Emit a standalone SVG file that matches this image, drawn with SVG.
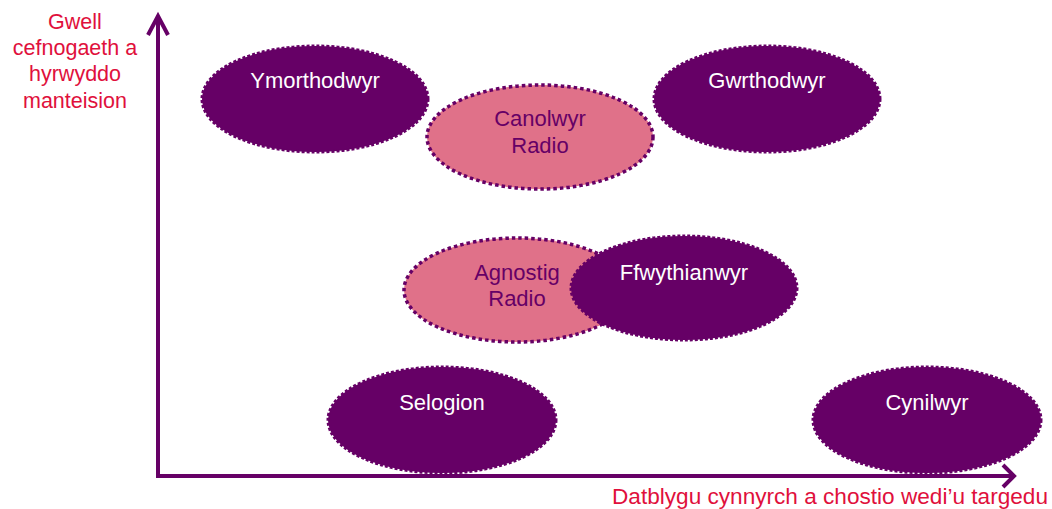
<svg xmlns="http://www.w3.org/2000/svg" width="1052" height="509" viewBox="0 0 1052 509">
<style>
.dark{fill:#660066;stroke:#660066;stroke-width:3;stroke-dasharray:3 2}
.pink{fill:#E07189;stroke:#660066;stroke-width:3.5;stroke-dasharray:3.5 3}
.wt{font-family:"Liberation Sans",Arial,sans-serif;font-size:22px;fill:#ffffff;text-anchor:middle}
.pt{font-family:"Liberation Sans",Arial,sans-serif;font-size:22px;fill:#660066;text-anchor:middle}
.rt{font-family:"Liberation Sans",Arial,sans-serif;font-size:21.5px;fill:#E0103C;text-anchor:middle}
.axis{fill:none;stroke:#660066;stroke-width:4}
</style>
<rect width="1052" height="509" fill="#ffffff"/>
<g id="axes">
<path class="axis" d="M158,477 V17"/>
<path class="axis" d="M148,35 L158,16 L168,35"/>
<path class="axis" d="M156,476 H1013"/>
<path class="axis" d="M1003,465 L1014,476 L1003,487"/>
</g>
<g id="ymorthodwyr"><ellipse class="dark" cx="315" cy="99" rx="113" ry="53"/><text class="wt" x="315" y="88">Ymorthodwyr</text></g>
<g id="gwrthodwyr"><ellipse class="dark" cx="767" cy="99" rx="113" ry="53"/><text class="wt" x="767" y="88">Gwrthodwyr</text></g>
<g id="canolwyr"><ellipse class="pink" cx="540" cy="137" rx="113" ry="52"/><text class="pt" x="540" y="126">Canolwyr</text><text class="pt" x="540" y="153">Radio</text></g>
<g id="agnostig"><ellipse class="pink" cx="517" cy="290" rx="113" ry="52"/><text class="pt" x="517" y="280">Agnostig</text><text class="pt" x="517" y="306">Radio</text></g>
<g id="ffwythianwyr"><ellipse class="dark" cx="684" cy="288" rx="113" ry="52"/><text class="wt" x="684" y="280">Ffwythianwyr</text></g>
<g id="selogion"><ellipse class="dark" cx="442" cy="420" rx="114" ry="53"/><text class="wt" x="442" y="410">Selogion</text></g>
<g id="cynilwyr"><ellipse class="dark" cx="927" cy="420" rx="114" ry="53"/><text class="wt" x="927" y="410">Cynilwyr</text></g>
<g id="labels">
<text class="rt" x="75" y="29">Gwell</text>
<text class="rt" x="75" y="55">cefnogaeth a</text>
<text class="rt" x="75" y="81">hyrwyddo</text>
<text class="rt" x="75" y="108">manteision</text>
<text class="rt" x="612" y="504" style="text-anchor:start;font-size:22px" textLength="436" lengthAdjust="spacingAndGlyphs">Datblygu cynnyrch a chostio wedi’u targedu</text>
</g>
</svg>
